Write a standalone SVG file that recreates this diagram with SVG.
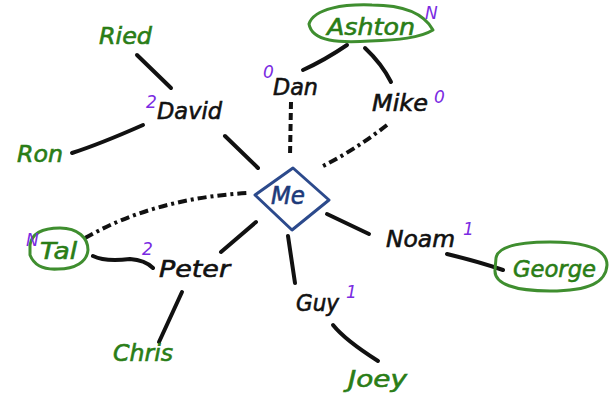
<svg xmlns="http://www.w3.org/2000/svg" width="611" height="402" viewBox="0 0 611 402">
<style>
text{font-family:"DejaVu Sans","Liberation Sans",sans-serif;font-style:oblique;stroke-width:0.6}
.lbl{font-size:23px;fill:#111;stroke:#111}
.leaf{font-size:23px;fill:#2a7d16;stroke:#2a7d16}
.me{font-size:24px;fill:#1d3a7a;stroke:#1d3a7a}
.num{font-size:17px;fill:#7a2be2;stroke-width:0}
.ln{fill:none;stroke:#111;stroke-width:4;stroke-linecap:round}
.dash{stroke-dasharray:7 4;stroke-linecap:butt}
.dd{stroke-dasharray:9 4 3 4;stroke-linecap:butt}
.ring{fill:none;stroke:#3f8e2f;stroke-width:3;stroke-linejoin:round}
.dia{fill:#fff;stroke:#2c4a8c;stroke-width:3;stroke-linejoin:round}
</style>
<rect width="611" height="402" fill="#fff"/>
<g id="connectors">
<path class="ln" d="M137,55 L171,88"/>
<path class="ln" d="M72,153 Q100,144 143,125"/>
<path class="ln" d="M225,136 L258,168"/>
<path class="ln dash" d="M291,102 L290,157"/>
<path class="ln" d="M303,70 Q325,60 347,45"/>
<path class="ln" d="M365,48 Q382,64 391,82"/>
<path class="ln dd" d="M387,125 Q355,150 321,167"/>
<path class="ln dd" d="M85,238 Q155,198 248,193"/>
<path class="ln" d="M93,256 Q105,262 130,259 Q145,260 153,268"/>
<path class="ln" d="M221,252 L256,222"/>
<path class="ln" d="M182,292 L159,342"/>
<path class="ln" d="M288,236 L295,283"/>
<path class="ln" d="M327,214 L369,234"/>
<path class="ln" d="M447,254 Q480,262 503,270"/>
<path class="ln" d="M333,325 Q345,340 378,361"/>
</g>
<g id="me">
<polygon class="dia" points="255,195 293,168 329,200 292,230"/>
<text class="me" x="271" y="204" textLength="34" lengthAdjust="spacingAndGlyphs">Me</text>
</g>
<g id="ried"><text class="leaf" x="99" y="44" textLength="53" lengthAdjust="spacingAndGlyphs">Ried</text></g>
<g id="david">
<text class="lbl" x="157" y="119" textLength="65" lengthAdjust="spacingAndGlyphs">David</text>
<text class="num" x="146" y="108">2</text>
</g>
<g id="ron"><text class="leaf" x="17" y="162" textLength="46" lengthAdjust="spacingAndGlyphs">Ron</text></g>
<g id="dan">
<text class="lbl" x="273" y="95" textLength="45" lengthAdjust="spacingAndGlyphs">Dan</text>
<text class="num" x="263" y="78">0</text>
</g>
<g id="ashton">
<path class="ring" d="M309,24 C314,8 345,4 372,5 C398,5 422,10 433,30 C420,38 398,40 370,41 C340,43 312,42 309,24 Z"/>
<text class="leaf" x="327" y="35" textLength="88" lengthAdjust="spacingAndGlyphs">Ashton</text>
<text class="num" x="425" y="19">N</text>
</g>
<g id="mike">
<text class="lbl" x="372" y="111" textLength="56" lengthAdjust="spacingAndGlyphs">Mike</text>
<text class="num" x="434" y="103">0</text>
</g>
<g id="tal">
<path class="ring" d="M30,245 C32,232 45,228 60,228 C78,228 88,238 88,250 C87,262 75,269 58,269 C43,270 34,265 30,255 Z"/>
<text class="leaf" x="40" y="259" textLength="37" lengthAdjust="spacingAndGlyphs">Tal</text>
<text class="num" x="26" y="246">N</text>
</g>
<g id="peter">
<text class="lbl" x="159" y="277" textLength="71" lengthAdjust="spacingAndGlyphs">Peter</text>
<text class="num" x="142" y="255">2</text>
</g>
<g id="chris"><text class="leaf" x="113" y="361" textLength="60" lengthAdjust="spacingAndGlyphs">Chris</text></g>
<g id="guy">
<text class="lbl" x="296" y="311" textLength="43" lengthAdjust="spacingAndGlyphs">Guy</text>
<text class="num" x="346" y="298">1</text>
</g>
<g id="joey"><text class="leaf" x="348" y="387" textLength="59" lengthAdjust="spacingAndGlyphs">Joey</text></g>
<g id="noam">
<text class="lbl" x="386" y="247" textLength="69" lengthAdjust="spacingAndGlyphs">Noam</text>
<text class="num" x="463" y="235">1</text>
</g>
<g id="george">
<path class="ring" d="M496,258 C498,246 520,242 550,242 C585,242 607,248 607,265 C606,282 590,291 550,291 C515,291 494,284 495,270 Z"/>
<text class="leaf" x="513" y="277" textLength="83" lengthAdjust="spacingAndGlyphs">George</text>
</g>
</svg>
